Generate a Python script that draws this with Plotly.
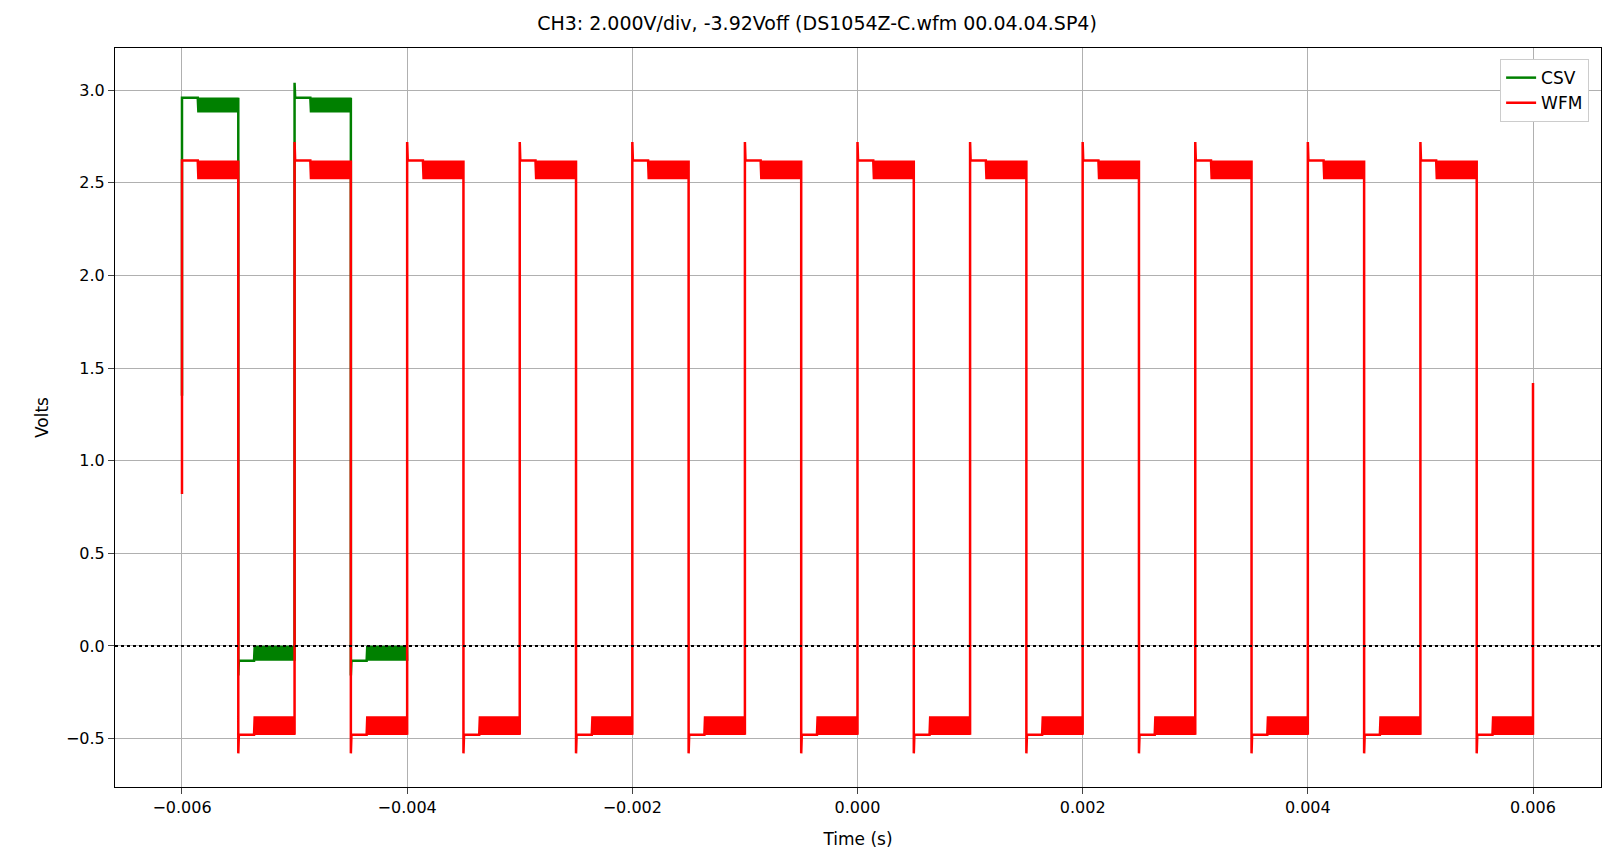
import numpy as np
import plotly.graph_objects as go

# waveform parameters
wfm_rise_times = [-0.006, -0.005, -0.004, -0.003, -0.002, -0.001, 0.000, 0.001, 0.002, 0.003, 0.004, 0.005]
wfm_high = 2.62
wfm_high_dither = 2.52
wfm_low = -0.48
wfm_low_dither = -0.38
wfm_rise_spike = 2.72
wfm_fall_spike = -0.58
wfm_start_value = 0.82
wfm_end_value = 1.42

csv_rise_times = [-0.006, -0.005]
csv_high = 2.96
csv_high_dither = 2.88
csv_low = -0.08
csv_low_dither = 0.0
csv_rise_spike = 3.04
csv_fall_spike = -0.16
csv_start_value = 1.35
csv_end_time = -0.004

half_period = 0.0005
dither_delay = 0.00014
dither_step = 0.000002


def build(rises, hi, hid, lo, lod, rspike, fspike, start_val, end_time, end_val):
    xs, ys = [], []
    for i, t0 in enumerate(rises):
        xs += [t0, t0]
        ys += [start_val if i == 0 else lo, hi if i == 0 else rspike]
        xs += [t0 + 0.000005, t0 + dither_delay]
        ys += [hi, hi]
        d = np.arange(t0 + dither_delay, t0 + half_period, dither_step)
        xs += list(d)
        ys += [hid if k % 2 else hi for k in range(len(d))]
        tf = t0 + half_period
        xs += [tf, tf, tf + 0.000005, tf + dither_delay]
        ys += [hi, fspike, lo, lo]
        tn = min(t0 + 2 * half_period, end_time)
        d = np.arange(tf + dither_delay, tn, dither_step)
        xs += list(d)
        ys += [lod if k % 2 else lo for k in range(len(d))]
    xs += [end_time, end_time]
    ys += [lo, end_val]
    return xs, ys


wx, wy = build(wfm_rise_times, wfm_high, wfm_high_dither, wfm_low, wfm_low_dither,
               wfm_rise_spike, wfm_fall_spike, wfm_start_value, 0.006, wfm_end_value)
cx, cy = build(csv_rise_times, csv_high, csv_high_dither, csv_low, csv_low_dither,
               csv_rise_spike, csv_fall_spike, csv_start_value, csv_end_time, csv_low)

fig = go.Figure()
fig.add_trace(go.Scatter(x=cx, y=cy, mode="lines", name="CSV", line=dict(color="green", width=2.5)))
fig.add_trace(go.Scatter(x=wx, y=wy, mode="lines", name="WFM", line=dict(color="red", width=2.5)))
fig.add_shape(type="line", xref="paper", x0=0, x1=1, y0=0, y1=0, yref="y",
              line=dict(color="black", width=2, dash="dot"))

axis = dict(showline=True, linecolor="black", mirror=True, ticks="outside", ticklen=6,
            showgrid=True, gridcolor="#b0b0b0", gridwidth=1, zeroline=False,
            tickfont=dict(size=16, color="black"), title_font=dict(size=17, color="black"))
fig.update_layout(
    width=1618, height=868, plot_bgcolor="white", paper_bgcolor="white",
    font=dict(family="DejaVu Sans", color="black"),
    title=dict(text="CH3: 2.000V/div, -3.92Voff (DS1054Z-C.wfm 00.04.04.SP4)", x=0.5, y=0.99,
               yanchor="top", xanchor="center", font=dict(size=19)),
    margin=dict(l=107, r=25, t=40, b=89),
    showlegend=True,
    legend=dict(x=0.992, y=0.985, xanchor="right", yanchor="top", bordercolor="#cccccc",
                borderwidth=1, font=dict(size=17), bgcolor="white"),
)
fig.update_xaxes(axis, range=[-0.006595, 0.006604], tickvals=[-0.006, -0.004, -0.002, 0, 0.002, 0.004, 0.006],
                 ticktext=["\u22120.006", "\u22120.004", "\u22120.002", "0.000", "0.002", "0.004", "0.006"],
                 title_text="Time (s)", title_standoff=16)
fig.update_yaxes(axis, range=[-0.7616, 3.228], tickvals=[-0.5, 0, 0.5, 1, 1.5, 2, 2.5, 3],
                 ticktext=["\u22120.5", "0.0", "0.5", "1.0", "1.5", "2.0", "2.5", "3.0"],
                 title_text="Volts", title_standoff=12)
fig.write_html("out.html")
